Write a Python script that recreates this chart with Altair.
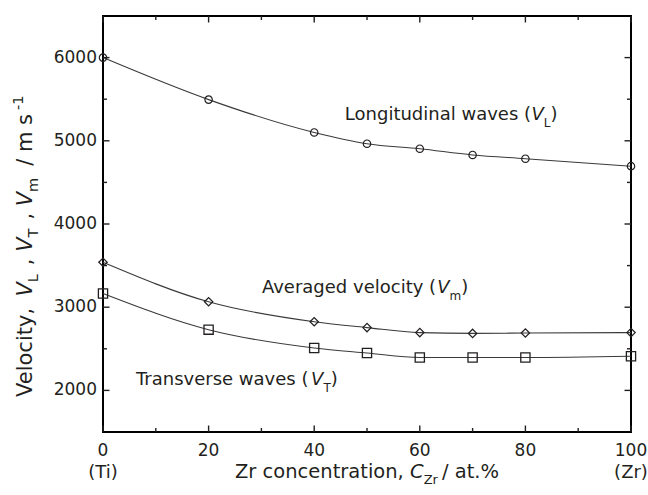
import altair as alt
import pandas as pd

# ---------------- data ----------------
conc = [0, 20, 40, 50, 60, 70, 80, 100]
v_long = [6000, 5495, 5100, 4965, 4905, 4830, 4785, 4695]
v_avg = [3540, 3065, 2825, 2755, 2695, 2685, 2690, 2695]
v_trans = [3165, 2730, 2510, 2450, 2395, 2395, 2395, 2410]
series_names = ["Longitudinal", "Averaged", "Transverse"]

x_major = [0, 20, 40, 60, 80, 100]
x_minor = [10, 30, 50, 70, 90]
y_major = [2000, 3000, 4000, 5000, 6000]
y_minor = [2500, 3500, 4500, 5500]

# ---------------- layout / style ----------------
W, H = 528, 416
FONT = "DejaVu Sans"
INK = "#231f20"
LINE = "#3a3a3a"

xs = alt.Scale(domain=[0, 100], nice=False, zero=False)
ys = alt.Scale(domain=[1500, 6500], nice=False, zero=False)

EM = {" ": .318, "%": .950, "(": .390, ")": .390, ",": .318, "-": .361, ".": .318,
      "/": .337, "1": .636, "C": .698, "L": .557, "T": .611, "V": .684, "Z": .685,
      "A": .684, "a": .613, "c": .550, "d": .635, "e": .615, "g": .635, "i": .278,
      "l": .278, "m": .974, "n": .634, "o": .612, "r": .411, "s": .521, "t": .392,
      "u": .634, "v": .592, "w": .818, "y": .592}


def tw(s, size):
    return sum(EM.get(c, .6) for c in s) * size


rows = []
for name, vals in zip(series_names, [v_long, v_avg, v_trans]):
    for c, v in zip(conc, vals):
        rows.append({"x": c, "v": v, "s": name})
df = pd.DataFrame(rows)

X = alt.X("x:Q", scale=xs, axis=None)
Y = alt.Y("v:Q", scale=ys, axis=None)

lines = alt.Chart(df).mark_line(interpolate="monotone", color=LINE, strokeWidth=1.1).encode(
    x=X, y=Y, detail="s:N")

points = alt.Chart(df).mark_point(filled=False, color=INK, opacity=1).encode(
    x=X, y=Y,
    shape=alt.Shape("s:N", scale=alt.Scale(domain=series_names, range=["circle", "diamond", "square"]), legend=None),
    size=alt.Size("s:N", scale=alt.Scale(domain=series_names, range=[55, 85, 100]), legend=None),
    strokeWidth=alt.StrokeWidth("s:N", scale=alt.Scale(domain=series_names, range=[1.2, 1.3, 1.8]), legend=None),
)

layers = [lines, points]


def xticks(vals, length):
    d = pd.DataFrame({"t": vals})
    b = alt.Chart(d).mark_rule(color=INK, strokeWidth=1.4)
    xx = alt.X("t:Q", scale=xs, axis=None)
    return [b.encode(x=xx, y=alt.value(H), y2=alt.value(H - length)),
            b.encode(x=xx, y=alt.value(0), y2=alt.value(length))]


def yticks(vals, length):
    d = pd.DataFrame({"t": vals})
    b = alt.Chart(d).mark_rule(color=INK, strokeWidth=1.4)
    yy = alt.Y("t:Q", scale=ys, axis=None)
    return [b.encode(y=yy, x=alt.value(0), x2=alt.value(length)),
            b.encode(y=yy, x=alt.value(W), x2=alt.value(W - length))]


layers += xticks(x_major, 6.5) + xticks(x_minor, 4) + yticks(y_major, 6.5) + yticks(y_minor, 4)

# tick labels
xl = pd.DataFrame({"t": x_major, "s": [str(v) for v in x_major]})
layers.append(alt.Chart(xl).mark_text(align="center", baseline="alphabetic", font=FONT, fontSize=17,
                                       color=INK).encode(
    x=alt.X("t:Q", scale=xs, axis=None), y=alt.value(H + 24), text="s:N"))
yl = pd.DataFrame({"t": y_major, "s": [str(v) for v in y_major]})
layers.append(alt.Chart(yl).mark_text(align="right", baseline="middle", font=FONT, fontSize=17,
                                       color=INK).encode(
    y=alt.Y("t:Q", scale=ys, axis=None), x=alt.value(-6), text="s:N"))


def rich_data(segs, ax, ay):
    """segments placed in data coordinates starting at (ax, ay)"""
    out = []
    off = 0.0
    d = pd.DataFrame({"x": [ax], "y": [ay]})
    for txt, style, fs, dy in segs:
        out.append(alt.Chart(d).mark_text(text=txt, align="left", baseline="alphabetic", dx=off, dy=dy,
                                          font=FONT, fontSize=fs, fontStyle=style, color=INK).encode(
            x=alt.X("x:Q", scale=xs, axis=None), y=alt.Y("y:Q", scale=ys, axis=None)))
        off += tw(txt, fs)
    return out


def rich_px(segs, px, py, angle=0, center=False):
    out = []
    total = sum(tw(t, fs) + gap for t, _, fs, _, gap in segs)
    off = -total / 2 if center else 0.0
    d = pd.DataFrame({"k": [0]})
    for txt, style, fs, dy, gap in segs:
        kw = dict(text=txt, align="left", baseline="alphabetic", dx=off, dy=dy,
                  font=FONT, fontSize=fs, fontStyle=style, color=INK)
        if angle:
            kw["angle"] = angle
        out.append(alt.Chart(d).mark_text(**kw).encode(x=alt.value(px), y=alt.value(py)))
        off += tw(txt, fs) + gap
    return out


N, I = "normal", "italic"
ann_long = [("Longitudinal waves (", N, 18, 0), ("V", I, 18, 0), ("L", N, 12, 7), (")", N, 18, 0)]
ann_avg = [("Averaged velocity (", N, 18, 0), ("V", I, 18, 0), ("m", N, 12, 7), (")", N, 18, 0)]
ann_trans = [("Transverse waves (", N, 18, 0), ("V", I, 18, 0), ("T", N, 12, 7), (")", N, 18, 0)]

layers += rich_data(ann_long, 45.8, 5250)
layers += rich_data(ann_avg, 30.1, 3171)
layers += rich_data(ann_trans, 6.25, 2065)

# x axis title
BASE2 = H + 46
xt = [("Zr concentration, ", N, 19.5, 0, 0), ("C", I, 19.5, 0, 0), ("Zr", N, 13, 6, 4),
      ("/ at.%", N, 19.5, 0, 0)]
layers += rich_px(xt, W / 2, BASE2, center=True)

# end-member labels
ends = pd.DataFrame({"x": [0, 100], "t": ["(Ti)", "(Zr)"]})
layers.append(alt.Chart(ends).mark_text(align="center", baseline="alphabetic", font=FONT,
                                         fontSize=18, color=INK).encode(
    x=alt.X("x:Q", scale=xs, axis=None), y=alt.value(BASE2), text="t:N"))

# y axis title (rotated)
yt = [("Velocity, ", N, 21, 0, 3), ("V", I, 21, 0, 0), ("L", N, 14.5, 6, 9), (", ", N, 21, 0, 0),
      ("V", I, 21, 0, 0), ("T", N, 14.5, 6, 9), (", ", N, 21, 0, 0), ("V", I, 21, 0, 0),
      ("m", N, 14.5, 6, 12), ("/ m s", N, 21, 0, 4), ("-1", N, 14.5, -9, 0)]
layers += rich_px(yt, -71, 381, angle=270)

chart = alt.layer(*layers).properties(
    width=W, height=H,
    autosize=alt.AutoSizeParams(type="none"),
    padding={"left": 103, "top": 16, "right": 17, "bottom": 63},
).configure_view(stroke="black", strokeWidth=2)

chart.save("out.html", embed_options={"renderer": "svg", "actions": False})
